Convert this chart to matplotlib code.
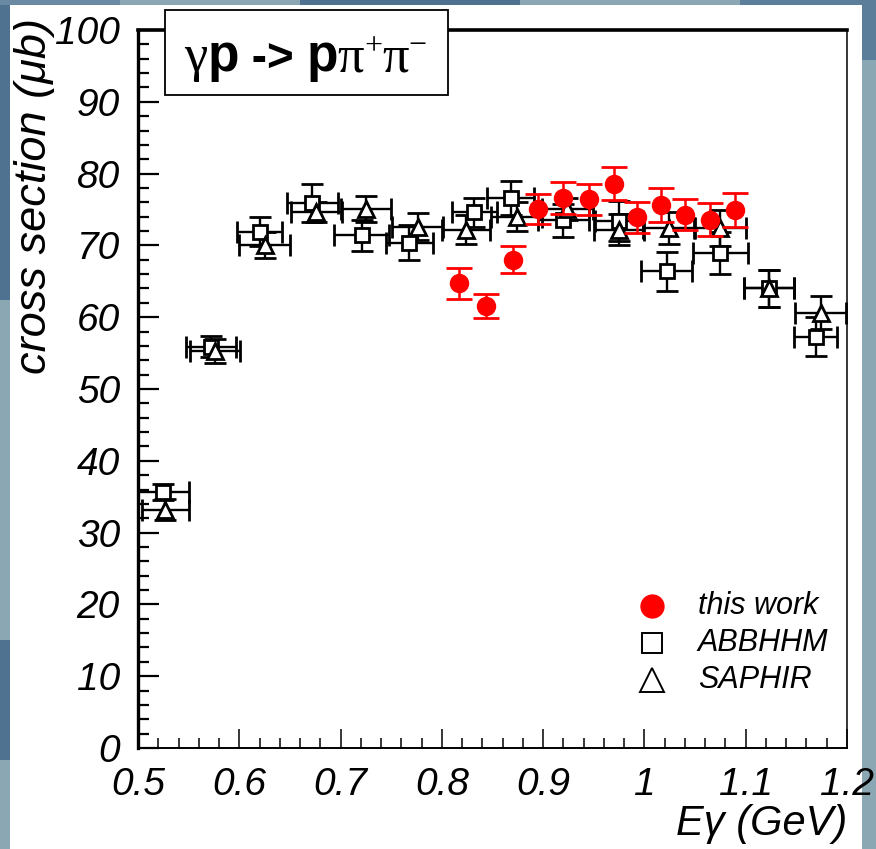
import matplotlib
matplotlib.use("Agg")
import matplotlib.pyplot as plt
from matplotlib.patches import Rectangle
from matplotlib.ticker import MultipleLocator, FixedLocator, FixedFormatter

# ---------------- data ----------------
this_work_x = [0.817, 0.844, 0.870, 0.895, 0.920, 0.945, 0.970, 0.993, 1.016, 1.040, 1.065, 1.089]
this_work_y = [64.7, 61.6, 68.0, 75.1, 76.6, 76.4, 78.6, 73.9, 75.6, 74.3, 73.6, 74.9]
this_work_err = [2.1, 1.7, 1.9, 2.1, 2.2, 2.2, 2.3, 2.2, 2.4, 2.1, 2.3, 2.4]

abbhhm_x = [0.525, 0.572, 0.620, 0.672, 0.721, 0.768, 0.832, 0.868, 0.920, 0.975, 1.022, 1.075, 1.123, 1.169]
abbhhm_y = [35.7, 55.9, 71.9, 75.9, 71.4, 70.4, 74.6, 76.6, 73.5, 73.4, 66.4, 68.9, 64.0, 57.3]
abbhhm_xerr = [0.025, 0.025, 0.022, 0.025, 0.027, 0.023, 0.022, 0.023, 0.025, 0.024, 0.025, 0.027, 0.025, 0.021]
abbhhm_yerr = [1.1, 1.5, 2.0, 2.6, 2.2, 2.4, 2.0, 2.3, 2.3, 2.8, 2.7, 2.9, 2.6, 2.7]

saphir_x = [0.527, 0.576, 0.625, 0.676, 0.725, 0.776, 0.824, 0.874, 0.924, 0.975, 1.024, 1.075, 1.123, 1.174]
saphir_y = [33.2, 55.3, 70.1, 74.6, 75.1, 72.6, 72.2, 74.0, 75.1, 72.2, 72.4, 72.4, 64.0, 60.6]
saphir_xerr = [0.023, 0.025, 0.025, 0.025, 0.025, 0.025, 0.024, 0.025, 0.025, 0.025, 0.025, 0.025, 0.025, 0.025]
saphir_yerr = [1.5, 1.7, 1.8, 1.4, 1.8, 1.9, 2.0, 2.0, 1.5, 2.2, 2.2, 2.5, 2.6, 2.3]

x_ticks = [0.5, 0.6, 0.7, 0.8, 0.9, 1.0, 1.1, 1.2]
x_ticklabels = ["0.5", "0.6", "0.7", "0.8", "0.9", "1", "1.1", "1.2"]
y_ticks = [0, 10, 20, 30, 40, 50, 60, 70, 80, 90, 100]
y_ticklabels = ["0", "10", "20", "30", "40", "50", "60", "70", "80", "90", "100"]
legend_labels = ["this work", "ABBHHM", "SAPHIR"]

# ---------------- figure ----------------
W, H = 876, 849
fig = plt.figure(figsize=(W / 100, H / 100), dpi=100)
fig.patch.set_facecolor("#8ca7b4")

def fx(px):
    return px / W

def fy(py):
    return 1 - py / H

# background decoration (slide background)
for (x0, y0, x1, y1, c) in [
    (0, 0, 10, 300, "#4f7291"), (0, 640, 10, 760, "#4f7291"),
    (0, 0, 120, 5, "#6a8aa3"), (300, 0, 520, 5, "#4f7291"),
    (740, 0, 876, 5, "#5b7e9a"), (862, 0, 876, 60, "#5b7e9a"),
]:
    fig.patches.append(Rectangle((fx(x0), fy(y1)), fx(x1) - fx(x0), fy(y0) - fy(y1),
                                 transform=fig.transFigure, facecolor=c, edgecolor="none", zorder=-20))
fig.patches.append(Rectangle((fx(10), fy(849)), fx(862) - fx(10), fy(5) - fy(849),
                             transform=fig.transFigure, facecolor="white", edgecolor="none", zorder=-10))

L, R, T, B = 138, 847, 30, 748
ax = fig.add_axes([fx(L), fy(B), fx(R) - fx(L), fy(T) - fy(B)])
ax.set_facecolor("white")
ax.set_xlim(0.5, 1.2)
ax.set_ylim(0, 100)

ax.xaxis.set_major_locator(FixedLocator(x_ticks))
ax.xaxis.set_major_formatter(FixedFormatter(x_ticklabels))
ax.xaxis.set_minor_locator(MultipleLocator(0.02))
ax.yaxis.set_major_locator(FixedLocator(y_ticks))
ax.yaxis.set_major_formatter(FixedFormatter(y_ticklabels))
ax.yaxis.set_minor_locator(MultipleLocator(2))

ax.tick_params(axis="both", which="both", direction="in", top=False, right=False, colors="black")
ax.tick_params(axis="x", which="major", length=14, width=1.1, pad=14)
ax.tick_params(axis="x", which="minor", length=7, width=1.1)
ax.tick_params(axis="y", which="major", length=15, width=1.6, pad=13)
ax.tick_params(axis="y", which="minor", length=8, width=1.6)
for lab in ax.get_xticklabels() + ax.get_yticklabels():
    lab.set_fontfamily("Liberation Sans")
    lab.set_fontstyle("italic")
    lab.set_fontsize(28)

ax.spines["left"].set_linewidth(2.4)
ax.spines["bottom"].set_linewidth(1.4)
ax.spines["top"].set_linewidth(2.6)
ax.spines["right"].set_linewidth(1.1)

# data
ax.errorbar(abbhhm_x, abbhhm_y, xerr=abbhhm_xerr, yerr=abbhhm_yerr, fmt="s",
            ms=10.5, mfc="white", mec="black", mew=2.0, ecolor="black",
            elinewidth=1.7, capsize=8, capthick=1.7, zorder=3)
ax.errorbar(saphir_x, saphir_y, xerr=saphir_xerr, yerr=saphir_yerr, fmt="^",
            ms=11, mfc="white", mec="black", mew=2.0, ecolor="black",
            elinewidth=1.7, capsize=8, capthick=1.7, zorder=3)
ax.errorbar(this_work_x, this_work_y, yerr=this_work_err, fmt="o",
            ms=13, mfc="#ff0000", mec="#ff0000", ecolor="#ff0000",
            elinewidth=1.8, capsize=9.5, capthick=2.0, zorder=5)

# axis labels
ax.set_xlabel("Eγ (GeV)", fontfamily="Liberation Sans", fontstyle="italic", fontsize=30)
ax.xaxis.set_label_coords(1.0, (B - 824) / (B - T))
ax.xaxis.label.set_ha("right")
ax.xaxis.label.set_va("center")

ax.set_ylabel("cross section (μb)", fontfamily="Liberation Sans", fontstyle="italic", fontsize=32.5)
ax.yaxis.set_label_coords((35 - L) / (R - L), (B - 18) / (B - T))
ax.yaxis.label.set_ha("right")
ax.yaxis.label.set_va("center")

# legend (manual)
leg_marker_x = (652 - L) / (R - L)
leg_text_x = (698 - L) / (R - L)
leg_rows = [(B - 606) / (B - T), (B - 643) / (B - T), (B - 680) / (B - T)]
ax.plot([leg_marker_x], [leg_rows[0]], "o", ms=16.5, mfc="#ff0000", mec="#ff0000",
        transform=ax.transAxes, clip_on=False, zorder=6)
ax.plot([leg_marker_x], [leg_rows[1]], "s", ms=15, mfc="white", mec="black", mew=1.4,
        transform=ax.transAxes, clip_on=False, zorder=6)
ax.plot([leg_marker_x], [leg_rows[2]], "^", ms=17, mfc="white", mec="black", mew=1.4,
        transform=ax.transAxes, clip_on=False, zorder=6)
for lbl, yy in zip(legend_labels, leg_rows):
    ax.text(leg_text_x, yy, lbl, transform=ax.transAxes, ha="left", va="center",
            fontfamily="Liberation Sans", fontstyle="italic", fontsize=22)

# reaction label box
fig.patches.append(Rectangle((fx(165), fy(95)), fx(448) - fx(165), fy(10) - fy(95),
                             transform=fig.transFigure, facecolor="white",
                             edgecolor="black", linewidth=1.3, zorder=10))
renderer = fig.canvas.get_renderer()
pieces = [
    ("γ", dict(family="Liberation Serif", size=38), 0),
    ("p", dict(family="Liberation Sans", weight="bold", size=37), 0),
    (" -> ", dict(family="Liberation Sans", weight="bold", size=33), 0),
    ("p", dict(family="Liberation Sans", weight="bold", size=37), 0),
    ("π", dict(family="Liberation Serif", size=38), 0),
    ("+", dict(family="Liberation Serif", size=23), 17),
    ("π", dict(family="Liberation Serif", size=38), 0),
    ("−", dict(family="Liberation Serif", size=23), 17),
]
xpos = 184
base_y = 71
for s, kw, dy in pieces:
    t = fig.text(fx(xpos), fy(base_y - dy), s, ha="left", va="baseline", zorder=11, **kw)
    bb = t.get_window_extent(renderer)
    xpos += bb.width

fig.savefig("out.png", dpi=100, facecolor=fig.get_facecolor())
